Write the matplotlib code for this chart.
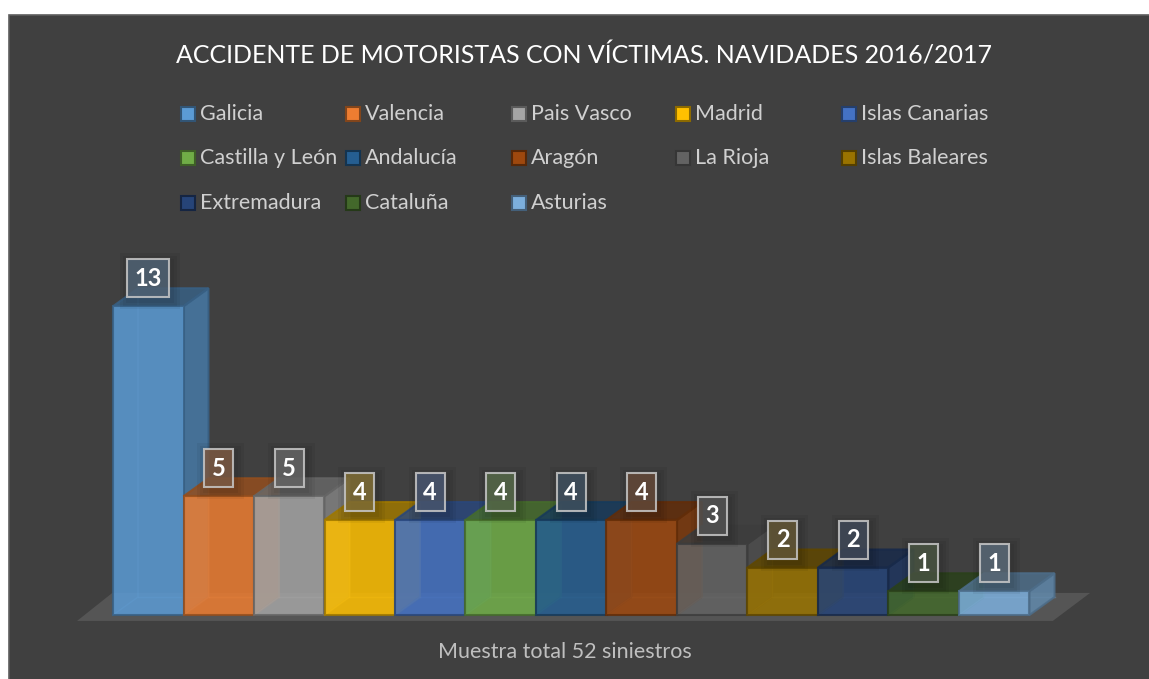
import matplotlib
import matplotlib.pyplot as plt
from matplotlib.colors import to_rgb
from matplotlib.patches import Polygon, Rectangle

matplotlib.use("Agg")

regions = ["Galicia", "Valencia", "Pais Vasco", "Madrid", "Islas Canarias",
           "Castilla y León", "Andalucía", "Aragón", "La Rioja", "Islas Baleares",
           "Extremadura", "Cataluña", "Asturias"]
accidents = [13, 5, 5, 4, 4, 4, 4, 4, 3, 2, 2, 1, 1]
colors = ["#5B9BD5", "#ED7D31", "#A5A5A5", "#FFC000", "#4472C4",
          "#70AD47", "#255E91", "#9E480E", "#636363", "#997300",
          "#264478", "#43682B", "#7CAFDD"]
title = "ACCIDENTE DE MOTORISTAS CON VÍCTIMAS. NAVIDADES 2016/2017"
footer = "Muestra total 52 siniestros"

W, H = 1149, 679
BG = "#404040"
plt.rcParams["font.family"] = ["Lato", "DejaVu Sans"]

# pixel geometry of the plot area (front face of first bar, baseline)
X0_PX, BAR_PX, Y0_PX, UNIT_PX = 113, 70.5, 615, 23.75
DX, DY = 25 / BAR_PX, 18 / UNIT_PX  # depth offset in data units


def shade(c, f):
    r, g, b = to_rgb(c)
    return (r * f, g * f, b * f)


def mix(c, other, t):
    a, b = to_rgb(c), to_rgb(other)
    return tuple(t * x + (1 - t) * y for x, y in zip(a, b))


fig = plt.figure(figsize=(W / 100, H / 100), dpi=100)
fig.patch.set_facecolor("white")
fig.add_artist(Rectangle((9 / W, -0.01), 1, 1 - 15 / H + 0.01, transform=fig.transFigure,
                         facecolor=BG, edgecolor="#5e5e5e", linewidth=1.2, zorder=-5))

ax = fig.add_axes([0, 0, 1, 1])
ax.set_zorder(2)
ax.set_xlim((0 - X0_PX) / BAR_PX - 0.5, (W - X0_PX) / BAR_PX - 0.5)
ax.set_ylim((Y0_PX - H) / UNIT_PX, Y0_PX / UNIT_PX)
ax.axis("off")
ax.patch.set_alpha(0)

# floor
fl, fr = -1.01, len(regions) - 0.5 + 0.33
fy0, fy1 = -0.25, 0.93
ax.add_patch(Polygon([(fl, fy0), (fr, fy0), (fr + 0.53, fy1), (fl + 0.5, fy1)],
                     closed=True, facecolor="#555555", edgecolor="none", zorder=1))

for i, (v, c) in enumerate(zip(accidents, colors)):
    x0, x1 = i - 0.5, i + 0.5
    z = 2 + i * 0.1
    edge = shade(c, 0.62)
    # hidden back edges seen through the translucent faces
    ax.plot([x0, x0 + DX, x0 + DX], [0, DY, v + DY], color=mix(c, "white", 0.6),
            lw=1, alpha=0.25, zorder=z)
    ax.plot([x0 + DX, x1 + DX], [DY, DY], color=mix(c, "white", 0.6),
            lw=1, alpha=0.25, zorder=z)
    ax.add_patch(Polygon([(x1, 0), (x1 + DX, DY), (x1 + DX, v + DY), (x1, v)],
                         closed=True, facecolor=shade(c, 0.78), alpha=0.85,
                         edgecolor=edge, linewidth=1.5, zorder=z + 0.01))
    ax.add_patch(Polygon([(x0, v), (x1, v), (x1 + DX, v + DY), (x0 + DX, v + DY)],
                         closed=True, facecolor=shade(c, 0.62), alpha=0.85,
                         edgecolor=edge, linewidth=1.5, zorder=z + 0.02))
    ax.bar(i, v, width=1.0, color=c, alpha=0.85, edgecolor=edge,
           linewidth=1.5, zorder=z + 0.03)

# value labels with a soft shadow
for i, (v, c) in enumerate(zip(accidents, colors)):
    txt = str(v)
    bw = (42 if len(txt) > 1 else 29) / BAR_PX
    bh = 38 / UNIT_PX
    cy = v + 28 / UNIT_PX
    for k in range(3):
        g = (k + 1) * 3
        ax.add_patch(Rectangle((i - bw / 2 - g / BAR_PX + 2 / BAR_PX, cy - bh / 2 - g / UNIT_PX - 3 / UNIT_PX),
                               bw + 2 * g / BAR_PX, bh + 2 * g / UNIT_PX,
                               facecolor="black", alpha=0.05, edgecolor="none", zorder=9.5))
    ax.add_patch(Rectangle((i - bw / 2, cy - bh / 2), bw, bh,
                           facecolor=mix(c, "#4a4a4a", 0.3), alpha=0.85,
                           edgecolor="#c8c8c8", linewidth=1.5, zorder=10))
    ax.text(i, cy, txt, ha="center", va="center", color="white",
            fontsize=17, fontweight="bold", zorder=11)

fig.text(584 / W, 1 - 55 / H, title, ha="center", va="center",
         color="white", fontsize=18)
fig.text(565 / W, 1 - 652 / H, footer, ha="center", va="center",
         color="#bfbfbf", fontsize=15.5)

# legend, row-major, equal column widths
col_x = [181, 346, 512, 676, 842]
row_y = [114, 158, 203]
for k, (name, c) in enumerate(zip(regions, colors)):
    r, col = divmod(k, 5)
    mx, my = col_x[col], row_y[r]
    fig.add_artist(Rectangle((mx / W, 1 - (my + 7) / H), 14 / W, 14 / H,
                             transform=fig.transFigure, facecolor=c,
                             edgecolor=shade(c, 0.55), linewidth=1.5))
    fig.text((mx + 19) / W, 1 - my / H, name, ha="left", va="center",
             color="#d0d0d0", fontsize=15.5)

fig.savefig("out.png", dpi=100, facecolor=fig.get_facecolor())
